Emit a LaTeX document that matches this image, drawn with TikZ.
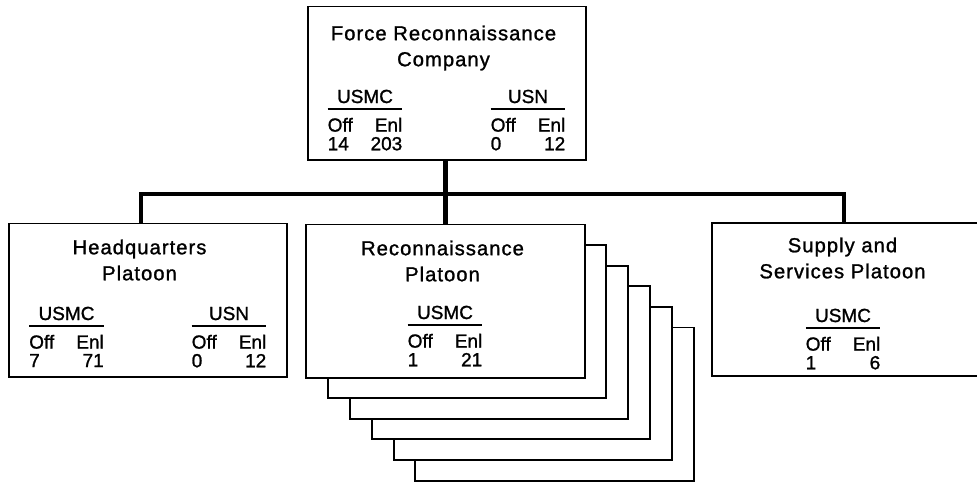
\documentclass[tikz,border=0pt]{standalone}
\usepackage{fontspec}
\setmainfont[FakeBold=1.2]{Liberation Sans}
\newfontfamily\titlefont[LetterSpace=5,FakeBold=1.2]{Liberation Sans}
\usepackage{tikz}

\setlength{\arrayrulewidth}{0.9pt}
\newlength{\strw}
\setlength{\strw}{53pt}
% strength block: service, officers, enlisted
\newcommand{\strength}[3]{%
  \begin{tabular}[t]{@{}c@{}}
    #1\\\hline
    \rule{0pt}{15.6pt}\makebox[\strw]{Off\hfill Enl}\\
    \makebox[\strw]{#2\hfill #3}
  \end{tabular}}

\begin{document}
\begin{tikzpicture}[x=0.025cm, y=-0.025cm,
    unitbox/.style={draw, line width=1.4pt, fill=white, inner sep=0pt,
      minimum width=6.95cm, minimum height=3.825cm},
    title/.style={align=center, font=\titlefont\fontsize{14.4}{18.5}\selectfont},
    count/.style={anchor=base, inner sep=0pt, font=\fontsize{13.5}{12.8}\selectfont},
    link/.style={line width=3pt, line join=miter}]
    % Picture frame (the right box runs past the edge)
    \useasboundingbox (0,0) rectangle (977,482);
    \clip (0,0) rectangle (977,482);

    % Company box at the top
    \node[unitbox] (frc) at (447,83) {};
    \node[title] (frc-title) at (443.5,48) {Force Reconnaissance\\Company};
    \node[count] (frc-usmc) at (365,103) {\strength{USMC}{14}{203}};
    \node[count] (frc-usn) at (528,103) {\strength{USN}{0}{12}};

    % Headquarters platoon
    \node[unitbox] (hq) at (148,300) {};
    \node[title] (hq-title) at (139.5,260) {Headquarters\\Platoon};
    \node[count] (hq-usmc) at (66.5,320) {\strength{USMC}{7}{71}};
    \node[count] (hq-usn) at (229,320) {\strength{USN}{0}{12}};

    % Reconnaissance platoons, stacked five deep behind the front one
    \foreach \k in {5,4,...,1}
      \node[unitbox] (rcn-\k) at (445.5+21.8*\k, 301+20.6*\k) {};
    \node[unitbox] (rcn) at (445.5,301) {};
    \node[title] (rcn-title) at (442.5,261) {Reconnaissance\\Platoon};
    \node[count] (rcn-usmc) at (445,319) {\strength{USMC}{1}{21}};

    % Supply and services platoon
    \node[unitbox] (sup) at (851,299.5) {};
    \node[title] (sup-title) at (842.5,258) {Supply and\\Services Platoon};
    \node[count] (sup-usmc) at (843,322) {\strength{USMC}{1}{6}};

    % Connectors
    \coordinate (busL) at (141,194);
    \coordinate (busR) at (844,194);
    \draw[link] (busL |- hq.north) -- (busL) -- (busR) -- (busR |- sup.north);
    \draw[link] (rcn.north |- frc.south) -- (rcn.north);
\end{tikzpicture}
\end{document}
